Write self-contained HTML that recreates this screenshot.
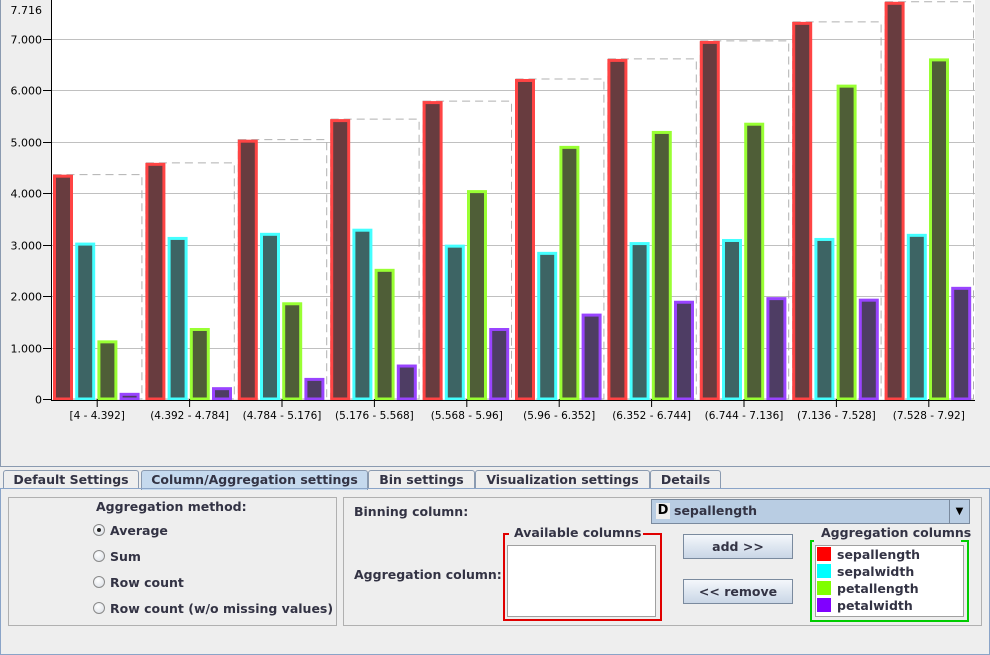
<!DOCTYPE html>
<html><head><meta charset="utf-8">
<style>
body{margin:0;width:990px;height:655px;background:#eeeeee;font-family:"DejaVu Sans","Liberation Sans",sans-serif;position:relative;overflow:hidden}
.abs{position:absolute}
.b{font-weight:bold;font-size:12.5px;color:#333344}
.tab{position:absolute;top:470px;height:18px;border:1px solid #8a9ab0;border-bottom:none;background:#eeeeee;font-weight:bold;font-size:12.5px;color:#333344;line-height:18px;text-align:center;border-radius:3px 3px 0 0}
.radio{position:absolute;width:10px;height:10px;border:1px solid #8a8a8a;border-radius:50%;background:radial-gradient(circle at 40% 35%,#fff,#d8dde4)}
.btn{position:absolute;width:108px;height:23px;border:1px solid #7a8a9e;background:linear-gradient(#f4f7fb,#c9d6e6);font-weight:bold;font-size:12.5px;color:#333344;text-align:center;line-height:23px}
.sw{display:inline-block;width:14px;height:14px;vertical-align:-2px;margin-right:6px}
</style></head><body>
<svg class="abs" style="left:0;top:0" width="990" height="468" id="chart">
<rect x="0" y="0" width="990" height="467" fill="#eeeeee"/>
<line x1="0" y1="466.5" x2="990" y2="466.5" stroke="#8a9ab0"/>
<line x1="0.5" y1="0" x2="0.5" y2="467" stroke="#8a9ab0"/>
<rect x="51" y="0" width="924" height="399" fill="#ffffff"/>
<g id="grid"></g><g id="bars"></g><g id="axes"></g>
</svg>
<script>
const categories=["[4 - 4.392]","(4.392 - 4.784]","(4.784 - 5.176]","(5.176 - 5.568]","(5.568 - 5.96]","(5.96 - 6.352]","(6.352 - 6.744]","(6.744 - 7.136]","(7.136 - 7.528]","(7.528 - 7.92]"];
const sepallength=[4.36,4.59,5.04,5.44,5.79,6.22,6.61,6.96,7.33,7.72];
const sepalwidth=[3.04,3.15,3.23,3.31,3.0,2.86,3.05,3.11,3.13,3.21];
const petallength=[1.14,1.38,1.88,2.53,4.06,4.92,5.21,5.37,6.11,6.62];
const petalwidth=[0.12,0.23,0.41,0.67,1.38,1.66,1.91,1.98,1.95,2.18];
const yTicks=[0,1,2,3,4,5,6,7];
const yTickLabels=["0","1.000","2.000","3.000","4.000","5.000","6.000","7.000"];
const yMax=7.716;
const NS="http://www.w3.org/2000/svg";
const x0=51,x1=975,yb=399,yt=2;
const yScale=v=>yb-(v/yMax)*(yb-yt);
const bw=(x1-x0)/categories.length;
function mk(t,a,p){const e=document.createElementNS(NS,t);for(const k in a)e.setAttribute(k,a[k]);p.appendChild(e);return e;}
const gridG=document.getElementById('grid'),barsG=document.getElementById('bars'),axesG=document.getElementById('axes');
yTicks.forEach((t,i)=>{const yy=Math.round(yScale(t))+0.5;
 if(t>0){const g=mk('line',{x1:x0,x2:x1,y1:yy,y2:yy,stroke:'#c0c0c0'},gridG);
 
 }
 mk('line',{x1:x0-8,x2:x0,y1:yy,y2:yy,stroke:'#000'},axesG);
 const tx=mk('text',{x:x0-9,y:yy+4,'text-anchor':'end','font-size':'11',fill:'#000'},axesG);tx.textContent=yTickLabels[i];
 
 
});
const topLabel=mk('text',{x:42,y:14,'text-anchor':'end','font-size':'11',fill:'#000'},axesG);topLabel.textContent=yMax.toFixed(3);


const series=[sepallength,sepalwidth,petallength,petalwidth];
const names=['sepallength','sepalwidth','petallength','petalwidth'];
const fills=['#683c3f','#3d6464','#4f5e37','#4e3d64'];
const strokes=['#ff4444','#44ffff','#99ff33','#9944ff'];
categories.forEach((c,i)=>{
 const bx=x0+i*bw;
 const mx=Math.max(...series.map(s=>s[i]));
 const r=mk('rect',{x:bx+2.5,y:yScale(mx),width:bw-4,height:yb-yScale(mx),fill:'none',stroke:'#b0b0b0','stroke-dasharray':'8,5'},barsG);
 
 
 series.forEach((s,j)=>{
  const v=s[i],w=17,xx=bx+3.5+j*22.2;
  const b=mk('rect',{x:xx,y:yScale(v)+1.5,width:w,height:Math.max(0,yb-yScale(v)-1.5),fill:fills[j],stroke:strokes[j],'stroke-width':3},barsG);
  
  
 });
 const cx=bx+bw/2;
 mk('line',{x1:cx,x2:cx,y1:yb,y2:yb+8,stroke:'#000'},axesG);
 const t=mk('text',{x:cx,y:yb+20,'text-anchor':'middle','font-size':'10.5',fill:'#000'},axesG);t.textContent=c;
 
 
});
mk('line',{x1:x0+0.5,x2:x0+0.5,y1:0,y2:yb+1,stroke:'#000'},axesG);
mk('line',{x1:x0,x2:x1,y1:yb+1.5,y2:yb+1.5,stroke:'#000'},axesG);
</script>

<div class="tab" style="left:3px;width:134px">Default Settings</div>
<div class="tab" style="left:141px;width:225px;background:#c5d9ee;height:19px">Column/Aggregation settings</div>
<div class="tab" style="left:368px;width:105px">Bin settings</div>
<div class="tab" style="left:475px;width:173px">Visualization settings</div>
<div class="tab" style="left:650px;width:69px">Details</div>
<div class="abs" style="left:0;top:488px;width:988px;height:165px;border:1px solid #8aa4c8"></div>

<div class="abs" style="left:8px;top:497px;width:327px;height:127px;border:1px solid #b0b0b0"></div>
<div class="abs b" style="left:96px;top:499px">Aggregation method:</div>
<div class="radio" style="left:93px;top:524px"><div style="width:4px;height:4px;background:#222;border-radius:50%;margin:3px"></div></div>
<div class="abs b" style="left:110px;top:523px">Average</div>
<div class="radio" style="left:93px;top:550px"></div>
<div class="abs b" style="left:110px;top:549px">Sum</div>
<div class="radio" style="left:93px;top:576px"></div>
<div class="abs b" style="left:110px;top:575px">Row count</div>
<div class="radio" style="left:93px;top:602px"></div>
<div class="abs b" style="left:110px;top:601px">Row count (w/o missing values)</div>

<div class="abs" style="left:343px;top:497px;width:637px;height:127px;border:1px solid #b0b0b0"></div>
<div class="abs b" style="left:354px;top:504px">Binning column:</div>
<div class="abs" style="left:651px;top:499px;width:317px;height:23px;border:1px solid #7a8a9e;background:#b9cde3">
 <span class="abs" style="left:4px;top:3px;width:14px;height:16px;background:#eee;font-weight:bold;font-size:13px;line-height:16px;text-align:center">D</span>
 <span class="abs b" style="left:22px;top:3px">sepallength</span>
 <span class="abs" style="right:0;top:0;width:19px;height:23px;border-left:1px solid #7a8a9e;text-align:center;font-size:10px;line-height:23px">▼</span>
</div>
<div class="abs b" style="left:354px;top:567px">Aggregation column:</div>
<div class="abs" style="left:503px;top:533px;width:155px;height:86px;border:2px solid #e00000;border-top:none"></div>
<div class="abs" style="left:503px;top:533px;width:6px;border-top:2px solid #e00000"></div>
<div class="abs" style="left:643px;top:533px;width:17px;border-top:2px solid #e00000"></div>
<div class="abs b" style="left:514px;top:525px">Available columns</div>
<div class="abs" style="left:507px;top:545px;width:147px;height:70px;background:#fff;border:1px solid #a0a0a0"></div>
<div class="btn" style="left:683px;top:534px">add &gt;&gt;</div>
<div class="btn" style="left:683px;top:579px">&lt;&lt; remove</div>
<div class="abs" style="left:810px;top:540px;width:155px;height:80px;border:2px solid #00cc00;border-top:none"></div>
<div class="abs" style="left:810px;top:540px;width:4px;border-top:2px solid #00cc00"></div>
<div class="abs" style="left:961px;top:540px;width:6px;border-top:2px solid #00cc00"></div>
<div class="abs b" style="left:821px;top:525px">Aggregation columns</div>
<div class="abs" style="left:815px;top:545px;width:147px;height:70px;background:#fff;border:1px solid #a0a0a0;font-weight:bold;font-size:12.5px;color:#333344;line-height:17px">
 <div style="margin-left:1px"><span class="sw" style="background:#ff0000"></span>sepallength</div>
 <div style="margin-left:1px"><span class="sw" style="background:#00ffff"></span>sepalwidth</div>
 <div style="margin-left:1px"><span class="sw" style="background:#80ff00"></span>petallength</div>
 <div style="margin-left:1px"><span class="sw" style="background:#8000ff"></span>petalwidth</div>
</div>
</body></html>
